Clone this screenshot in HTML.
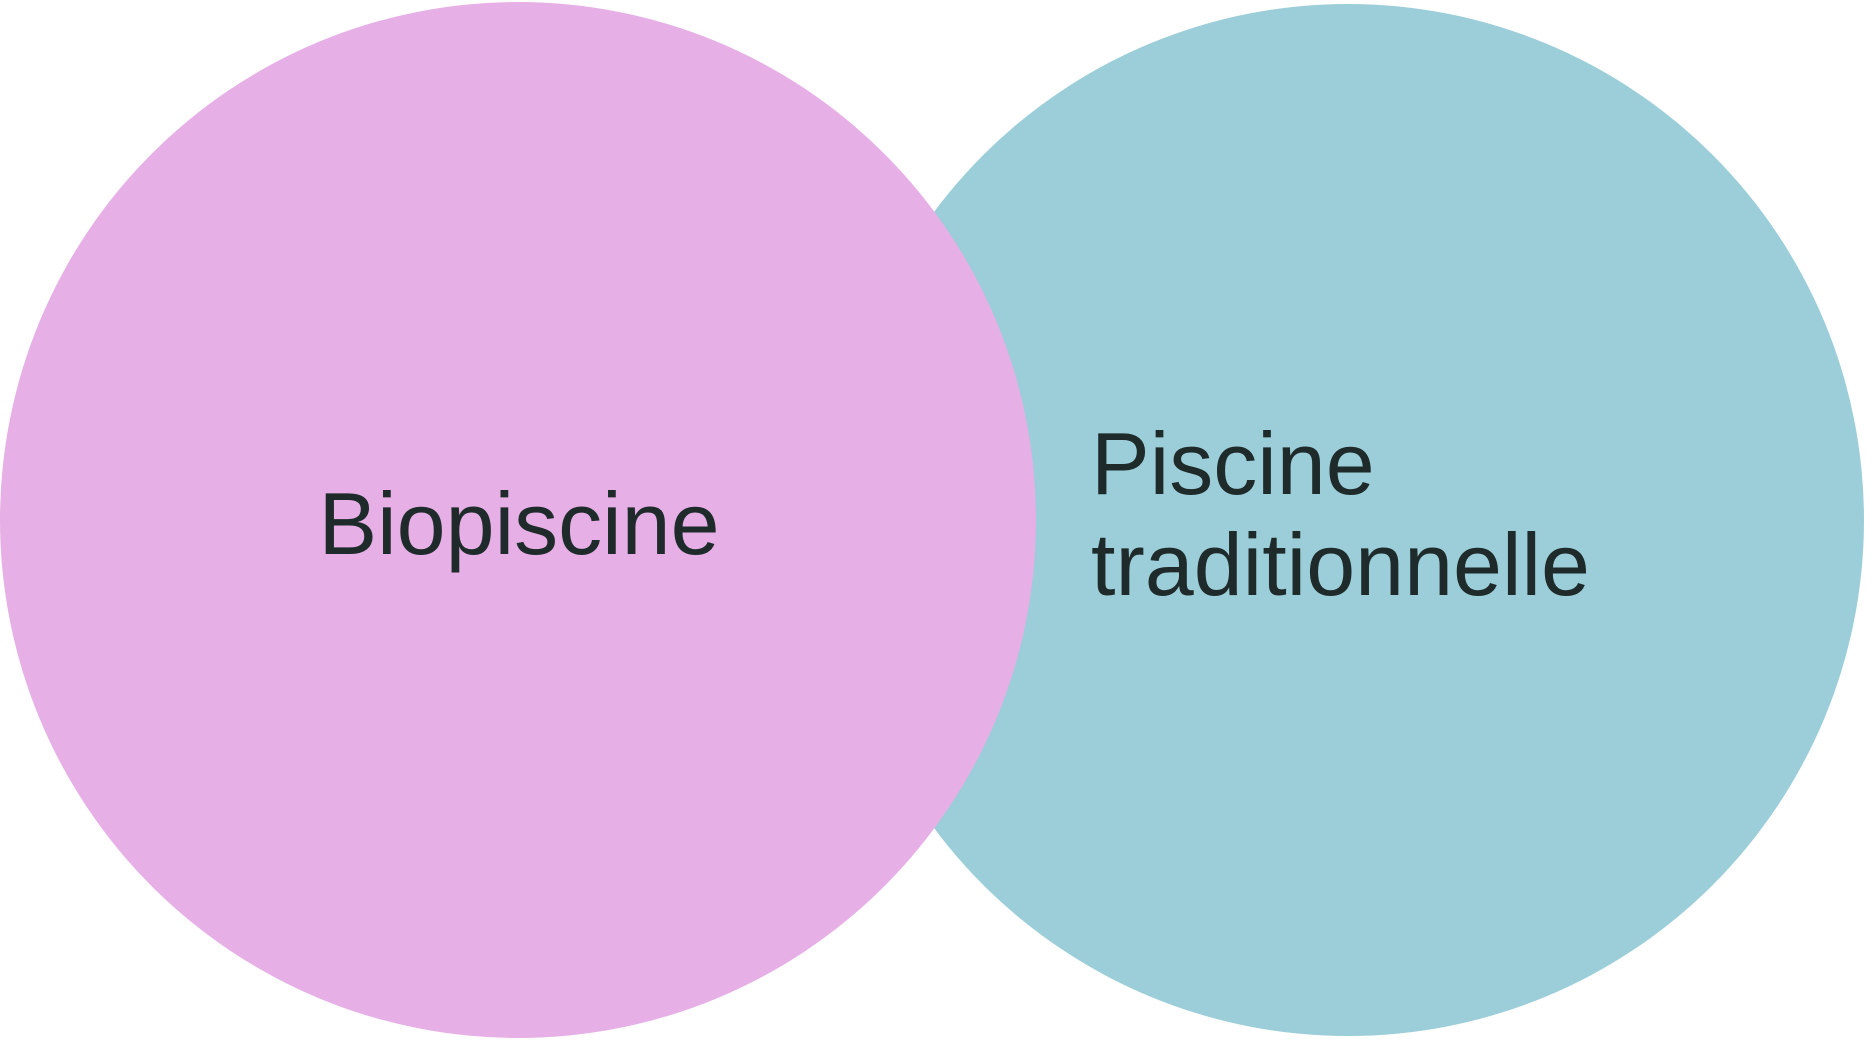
<!DOCTYPE html>
<html><head><meta charset="utf-8"><style>
html,body{margin:0;padding:0;background:#fff;}
svg{display:block}
</style></head><body>
<svg width="1872" height="1042" viewBox="0 0 1872 1042" xmlns="http://www.w3.org/2000/svg">
<circle cx="1348" cy="520" r="516" fill="#9CCED9"/>
<circle cx="518" cy="520" r="518" fill="#E6AFE6"/>
<g font-family="Liberation Sans, sans-serif" font-size="88" fill="#1E2B2A">
<text x="519" y="554" text-anchor="middle">Biopiscine</text>
<text x="1091" y="494">Piscine</text>
<text x="1091" y="595">traditionnelle</text>
</g>
</svg>
</body></html>
